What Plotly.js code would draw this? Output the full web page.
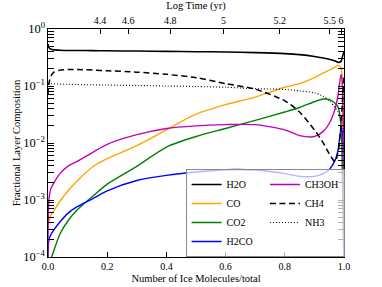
<!DOCTYPE html>
<html>
<head>
<meta charset="utf-8">
<script src="https://cdn.plot.ly/plotly-3.0.1.min.js"></script>
<style>html,body{margin:0;padding:0;background:#fff;}#chart{width:382px;height:287px;}</style>
</head>
<body>
<div id="chart"></div>
<script>
// Shared x grid: number of ice molecules / total
var frac = [0, 0.003, 0.01, 0.02, 0.04, 0.07, 0.1, 0.15, 0.2, 0.3, 0.4, 0.5, 0.6, 0.7, 0.8, 0.85, 0.9, 0.93, 0.95, 0.97, 0.98, 0.99, 0.995, 1.0];

var h2o  = [0.55, 0.47, 0.44, 0.43, 0.425, 0.42, 0.42, 0.418, 0.415, 0.41, 0.405, 0.40, 0.395, 0.385, 0.37, 0.355, 0.33, 0.31, 0.295, 0.275, 0.26, 0.27, 0.33, 0.40];
var co   = [4e-4, 4.3e-4, 5.5e-4, 6.5e-4, 9.5e-4, 1.5e-3, 2.2e-3, 3.8e-3, 5.3e-3, 9e-3, 0.017, 0.032, 0.047, 0.064, 0.095, 0.11, 0.14, 0.17, 0.19, 0.215, 0.23, 0.21, 0.05, 1.2e-4];
var co2  = [3e-5, 4e-5, 9e-5, 1.3e-4, 2.5e-4, 4.5e-4, 6.8e-4, 1.15e-3, 1.9e-3, 3.9e-3, 8.5e-3, 0.013, 0.018, 0.025, 0.035, 0.042, 0.053, 0.059, 0.058, 0.05, 0.043, 0.02, 0.002, 5e-5];
var h2co = [1e-4, 2e-4, 2.5e-4, 3e-4, 4.1e-4, 6e-4, 7.7e-4, 1.05e-3, 1.45e-3, 2.2e-3, 2.7e-3, 3.1e-3, 3.4e-3, 3.35e-3, 2.9e-3, 2.6e-3, 2.6e-3, 2.9e-3, 3.4e-3, 5e-3, 7.5e-3, 0.018, 0.015, 1e-4];
var ch3oh= [1e-4, 1e-3, 1.6e-3, 2e-3, 2.9e-3, 4e-3, 4.8e-3, 6.8e-3, 9.5e-3, 0.014, 0.018, 0.02, 0.021, 0.021, 0.017, 0.0135, 0.013, 0.016, 0.022, 0.04, 0.07, 0.16, 0.1, 1e-4];
var ch4  = [0.07, 0.11, 0.15, 0.175, 0.19, 0.195, 0.195, 0.19, 0.185, 0.175, 0.16, 0.14, 0.11, 0.088, 0.055, 0.035, 0.017, 0.01, 0.0065, 0.0047, 0.007, 0.02, 0.06, 0.15];
var nh3  = [0.11, 0.11, 0.11, 0.109, 0.108, 0.107, 0.106, 0.105, 0.104, 0.102, 0.1, 0.098, 0.095, 0.09, 0.087, 0.082, 0.076, 0.066, 0.055, 0.042, 0.035, 0.025, 0.02, 0.015];

// Top axis: log time ticks (positions on fraction axis) and labels
var timeTickPos = [0.176, 0.271, 0.413, 0.593, 0.783, 0.952, 0.99];
var timeTickText = ['4.4', '4.6', '4.8', '5', '5.2', '5.5', '6'];

var seriesNames = ['H2O', 'CO', 'CO2', 'H2CO', 'CH3OH', 'CH4', 'NH3'];
var seriesData = [h2o, co, co2, h2co, ch3oh, ch4, nh3];
var seriesColors = ['#000000', '#ffa500', '#008000', '#0000ff', '#c000c0', '#000000', '#000000'];
var seriesDash = ['solid', 'solid', 'solid', 'solid', 'solid', '6px,3.5px', '1px,2px'];
var seriesWidth = [1.6, 1.4, 1.4, 1.4, 1.4, 1.5, 1.1];
var legendRanks = [1, 3, 5, 7, 2, 4, 6];

var font = "'Liberation Serif', serif";

var traces = seriesNames.map(function (n, i) {
  return {
    x: frac, y: seriesData[i], name: n, type: 'scatter', mode: 'lines',
    xaxis: i === 0 ? 'x2' : 'x',
    line: {color: seriesColors[i], dash: seriesDash[i], width: seriesWidth[i], shape: 'spline', smoothing: 0.7},
    legendrank: legendRanks[i], hoverinfo: 'skip'
  };
});

var layout = {
  width: 382, height: 287,
  margin: {l: 48, r: 38, t: 29, b: 30, autoexpand: false},
  paper_bgcolor: '#fff', plot_bgcolor: '#fff',
  font: {family: font, size: 10, color: '#000'},
  showlegend: true,
  legend: {
    orientation: 'h', x: 1.002, xanchor: 'right', y: 0.0, yanchor: 'bottom',
    bgcolor: 'rgba(255,255,255,0.7)', bordercolor: '#888', borderwidth: 1,
    font: {family: font, size: 10, color: '#000'}, traceorder: 'normal'
  },
  xaxis: {
    range: [0, 1], dtick: 0.2, tick0: 0, tickformat: '.1f', automargin: true,
    ticks: 'inside', ticklen: 5, tickcolor: '#000',
    showline: true, linecolor: '#000', linewidth: 1, mirror: false,
    showgrid: false, zeroline: false,
    tickfont: {family: font, size: 10},
    title: {text: 'Number of Ice Molecules/total', font: {family: font, size: 10.5}, standoff: 3}
  },
  xaxis2: {
    overlaying: 'x', side: 'top', anchor: 'y', range: [0, 1], automargin: true,
    tickmode: 'array', tickvals: timeTickPos, ticktext: timeTickText,
    ticks: 'inside', ticklen: 5, tickcolor: '#000',
    showline: true, linecolor: '#000', linewidth: 1,
    showgrid: false, zeroline: false,
    tickfont: {family: font, size: 10},
    title: {text: 'Log Time (yr)', font: {family: font, size: 10.5}, standoff: 3}
  },
  yaxis: {
    type: 'log', range: [-4, 0], dtick: 1, tick0: 0, exponentformat: 'power', automargin: true,
    labelalias: {'1': '10<sup>0</sup>'},
    ticks: 'inside', ticklen: 6, tickcolor: '#000',
    minor: {ticks: 'inside', ticklen: 3, tickcolor: '#000', dtick: 'D1', showgrid: false},
    showline: true, linecolor: '#000', linewidth: 1, mirror: 'allticks',
    showgrid: false, zeroline: false,
    tickfont: {family: font, size: 10},
    title: {text: 'Fractional Layer Composition', font: {family: font, size: 10.5}, standoff: 0}
  }
};

Plotly.newPlot('chart', traces, layout, {staticPlot: true, displayModeBar: false});
</script>
</body>
</html>
